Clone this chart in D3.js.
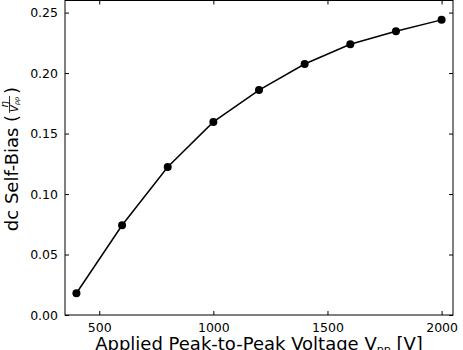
<!DOCTYPE html>
<html>
<head>
<script src="https://d3js.org/d3.v7.min.js"></script>
<style>
  body { margin: 0; background: white; }
  svg text { font-family: "DejaVu Sans", sans-serif; fill: black; }
</style>
</head>
<body>
<svg id="chart" width="463" height="350"></svg>
<script>
// data
const voltages = [400, 600, 800, 1000, 1200, 1400, 1600, 1800, 2000];
const selfBias = [0.018, 0.0742, 0.1224, 0.1596, 0.186, 0.2075, 0.2238, 0.2346, 0.244];
const xTicks = [500, 1000, 1500, 2000];
const yTicks = [0, 0.05, 0.10, 0.15, 0.20, 0.25];

const svg = d3.select("#chart");
const margin = {left: 65, top: 0.5, right: 10, bottom: 35};
const W = 463, H = 350;
const x = d3.scaleLinear().domain([350, 2050]).range([margin.left, W - margin.right]);
const y = d3.scaleLinear().domain([0, 0.26]).range([315, margin.top]);

// ticks (inward, all four sides)
const tk = 4;
const xAxisB = d3.axisBottom(x).tickValues(xTicks).tickSizeInner(-tk).tickSizeOuter(0).tickPadding(8).tickFormat(d3.format("d"));
const xAxisT = d3.axisTop(x).tickValues(xTicks).tickSizeInner(-tk).tickSizeOuter(0).tickFormat("");
const yAxisL = d3.axisLeft(y).tickValues(yTicks).tickSizeInner(-tk).tickSizeOuter(0).tickPadding(7).tickFormat(d3.format(".2f"));
const yAxisR = d3.axisRight(y).tickValues(yTicks).tickSizeInner(-tk).tickSizeOuter(0).tickFormat("");

function styleAxis(g) {
  g.select(".domain").remove();
  g.selectAll(".tick line").attr("stroke", "black").attr("stroke-width", 1);
  g.selectAll(".tick text").attr("font-size", 12.5).attr("font-family", "DejaVu Sans");
}
svg.append("g").attr("transform", `translate(0,${y(0)})`).call(xAxisB).call(styleAxis);
svg.append("g").attr("transform", `translate(0,${y(0.26)})`).call(xAxisT).call(styleAxis);
svg.append("g").attr("transform", `translate(${x(350)},0)`).call(yAxisL).call(styleAxis);
svg.append("g").attr("transform", `translate(${x(2050)},0)`).call(yAxisR).call(styleAxis);

// frame
svg.append("rect")
  .attr("x", x(350)).attr("y", y(0.26))
  .attr("width", x(2050) - x(350)).attr("height", y(0) - y(0.26))
  .attr("fill", "none").attr("stroke", "black").attr("stroke-width", 1);

// line + markers
const pts = voltages.map((v, i) => [v, selfBias[i]]);
svg.append("path").datum(pts)
  .attr("fill", "none").attr("stroke", "black").attr("stroke-width", 1.5)
  .attr("d", d3.line().x(d => x(d[0])).y(d => y(d[1])));
svg.selectAll("circle.pt").data(pts).join("circle")
  .attr("class", "pt")
  .attr("cx", d => x(d[0])).attr("cy", d => y(d[1]))
  .attr("r", 4).attr("fill", "black");

// x label (bottom partly cut off, as in the original)
const xl = svg.append("text")
  .attr("x", (x(350) + x(2050)) / 2).attr("y", 350)
  .attr("text-anchor", "middle").attr("font-size", 18);
xl.append("tspan").text("Applied Peak-to-Peak Voltage V");
xl.append("tspan").attr("font-size", 11).attr("dy", 3).text("pp");
xl.append("tspan").attr("dy", -3).text(" [V]");

// y label with fraction, rotated
const yl = svg.append("g").attr("transform", "translate(18,159) rotate(-90)");
const t1 = yl.append("text").attr("font-size", 18).text("dc Self-Bias (");
const w1 = t1.node().getComputedTextLength();
const fracW = 17;
const gap = 2;
const total = w1 + gap + fracW + gap + 7;
t1.attr("x", -total / 2);
const fx = -total / 2 + w1 + gap;
yl.append("line")
  .attr("x1", fx).attr("x2", fx + fracW).attr("y1", -8.5).attr("y2", -8.5)
  .attr("stroke", "black").attr("stroke-width", 0.8);
yl.append("text").attr("x", fx + fracW / 2).attr("y", -10.5)
  .attr("text-anchor", "middle").attr("font-size", 10).attr("font-style", "italic").text("η");
const den = yl.append("text").attr("x", fx + 1).attr("y", -0.5).attr("font-size", 10).attr("font-style", "italic");
den.append("tspan").text("V");
den.append("tspan").attr("font-size", 6.5).attr("dy", 1.5).text("pp");
yl.append("text").attr("x", fx + fracW + gap).attr("font-size", 18).text(")");
</script>
</body>
</html>
